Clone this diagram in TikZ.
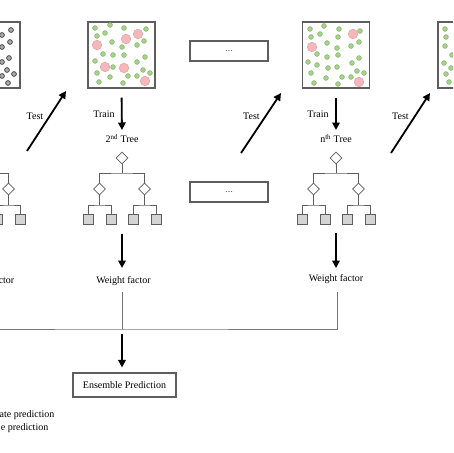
\documentclass[tikz,border=0pt]{standalone}
\usepackage{fontspec}
\setmainfont{Liberation Serif}
\usepackage{tikz}
\usetikzlibrary{positioning,
                calc,
                arrows.meta,
                shapes.geometric}
\definecolor{dotgreen}{HTML}{A9D18E}
\definecolor{dotgreenrim}{HTML}{7FAF62}
\definecolor{dotpink}{HTML}{F4B8BA}
\definecolor{dotpinkrim}{HTML}{E2A2A6}
\definecolor{dotgrey}{HTML}{A8A8A8}
\definecolor{framegrey}{HTML}{5E5E5E}
\definecolor{leafgrey}{HTML}{D4D4D4}

\begin{document}
\begin{tikzpicture}[x=1pt,y=-1pt]

\tikzset{
databox/.style={
draw=framegrey,
line width=1.2pt,
minimum width=67pt,
minimum height=66pt,
inner sep=0pt
},
gapbox/.style={
draw=framegrey,
line width=1.1pt,
minimum width=78pt,
minimum height=20pt,
inner sep=0pt,
font=\footnotesize
},
predbox/.style={
draw=framegrey,
line width=1.1pt,
minimum width=103pt,
minimum height=24pt,
inner sep=0pt,
font=\fontsize{10}{12}\selectfont
},
split/.style={
diamond,
draw=framegrey,
fill=white,
line width=0.8pt,
minimum size=12pt,
inner sep=0pt
},
leaf/.style={
draw=framegrey,
fill=leafgrey,
line width=0.8pt,
minimum size=10pt,
inner sep=0pt
},
treeline/.style={draw=framegrey, line width=0.8pt},
joinline/.style={draw=framegrey!85, line width=0.9pt},
bigarrow/.style={line width=1.8pt, -{Triangle[length=7.5pt,width=7.5pt]}},
steplabel/.style={font=\fontsize{10}{12}\selectfont, inner sep=1pt},
greendot/.style={fill=dotgreen, draw=dotgreenrim, line width=0.5pt},
pinkdot/.style={fill=dotpink, draw=dotpinkrim, line width=0.5pt},
greydot/.style={fill=dotgrey, draw=black!70, line width=0.8pt}
}

\useasboundingbox (0,0) rectangle (453,453);
\clip (0,0) rectangle (453,453);

%----------------------------------
% DATA BOXES
%----------------------------------

\node[databox] (dataone) at (-13.5,55) {};
\node[databox] (datatwo) at (121.5,55) {};
\node[databox] (dataenn) at (336,55) {};
\node[databox] (datalast) at (471.5,55) {};

\foreach \p in {(11,30),(2,35),(10,42),(2,47),(9,58),(2,62),(7,70),(14,74),(2,76),(8,83)}
  \draw[greydot] \p circle (2.4);

\foreach \p in {(95,28),(110,25),(124,28),(97,36),(105,33),(146,29),(144,41),(112,42),
                (122,47),(137,45),(103,54),(113,55),(124,55),(95,61),(137,62),(145,57),
                (113,67),(97,73),(110,77),(128,76),(137,76),(143,70),(150,73),(99,82),(123,83)}
  \draw[greendot] \p circle (2.4);
\foreach \p in {(97,45),(126,39),(138,34),(105,67),(124,68),(145,81)}
  \draw[pinkdot] \p circle (4.8);

\foreach \p in {(310,29),(324,26),(339,29),(311,37),(320,34),(338,37),(360,31),(327,43),
                (337,48),(351,46),(359,42),(317,54),(327,57),(338,55),(308,62),(317,65),
                (328,68),(337,67),(352,63),(359,58),(311,73),(326,78),(342,77),(351,77),
                (357,71),(364,73),(314,83),(338,84)}
  \draw[greendot] \p circle (2.4);
\foreach \p in {(353,34),(312,47),(359,82)}
  \draw[pinkdot] \p circle (4.8);

\foreach \p in {(445,29),(446,37),(445,46),(452,55),(444,63),(451,68),(446,74),(449,82)}
  \draw[greendot] \p circle (2.4);

%----------------------------------
% GAP BOXES
%----------------------------------

\node[gapbox] (gaptop) at (229,51) {\ldots};
\node[gapbox] (gapbot) at (229,192) {\ldots};

%----------------------------------
% TRAIN AND TEST
%----------------------------------

\node[steplabel,anchor=base] (trainlabtwo) at (104,117) {Train};
\node[steplabel,anchor=base] (trainlabenn) at (318,117) {Train};

\node[steplabel,anchor=north] (treelabtwo) at (122,133) {2\textsuperscript{nd} Tree};
\node[steplabel,anchor=north] (treelabenn) at (336,133) {n\textsuperscript{th} Tree};

\draw[bigarrow,shorten <=9pt,shorten >=3pt] (datatwo.south) -- (treelabtwo.north);
\draw[bigarrow,shorten <=9pt,shorten >=3pt] (dataenn.south) -- (treelabenn.north);

\node[steplabel,anchor=base] (testlabone) at (35,119) {Test};
\node[steplabel,anchor=base] (testlabtwo) at (251.5,119) {Test};
\node[steplabel,anchor=base] (testlabenn) at (400.5,119) {Test};

\coordinate (testonefoot) at (27,151);
\coordinate (testonetip) at (66,91);
\coordinate (testtwofoot) at (241,153);
\coordinate (testtwotip) at (281,93);
\coordinate (testennfoot) at (391,153);
\coordinate (testenntip) at (430,93);

\draw[bigarrow] (testonefoot) -- (testonetip);
\draw[bigarrow] (testtwofoot) -- (testtwotip);
\draw[bigarrow] (testennfoot) -- (testenntip);

%----------------------------------
% TREES
%----------------------------------

\foreach \t/\cx in {one/-14,two/122,enn/336}{
  \node[split] (root\t) at (\cx,158) {};
  \node[split] (lft\t) at (\cx-22.5,189) {};
  \node[split] (rgt\t) at (\cx+22.5,189) {};
  \node[leaf] (leafa\t) at (\cx-34,219) {};
  \node[leaf] (leafb\t) at (\cx-11,219) {};
  \node[leaf] (leafc\t) at (\cx+11,219) {};
  \node[leaf] (leafd\t) at (\cx+34,219) {};
  \coordinate (bar\t) at (\cx,173);
  \coordinate (lbar\t) at (\cx-22.5,205);
  \coordinate (rbar\t) at (\cx+22.5,205);
  \draw[treeline] (root\t) -- (bar\t);
  \draw[treeline] (lft\t) |- (bar\t) -| (rgt\t);
  \draw[treeline] (lft\t) -- (lbar\t);
  \draw[treeline] (rgt\t) -- (rbar\t);
  \draw[treeline] (leafa\t) |- (lbar\t) -| (leafb\t);
  \draw[treeline] (leafc\t) |- (rbar\t) -| (leafd\t);
}

%----------------------------------
% WEIGHT FACTORS
%----------------------------------

\node[steplabel,anchor=base east] (wfone) at (15.5,283) {ctor};
\node[steplabel,anchor=north] (wftwo) at (123.5,275) {Weight factor};
\node[steplabel,anchor=north] (wfenn) at (336,273) {Weight factor};

\coordinate (basetwo) at (122,234);
\coordinate (baseenn) at (336,233);
\draw[bigarrow,shorten >=7pt] (basetwo) -- (basetwo |- wftwo.north);
\draw[bigarrow,shorten >=5pt] (baseenn) -- (baseenn |- wfenn.north);

%----------------------------------
% ENSEMBLE
%----------------------------------

\coordinate (joinone) at (-14,292);
\coordinate (jointwo) at (122,292);
\coordinate (joinenn) at (337,292);
\coordinate (merge) at (122,329);

\draw[joinline] (joinone) |- (merge) -| (joinenn);
\draw[joinline] (jointwo) -- (merge);

\node[predbox] (ens) at (124.5,385) {Ensemble Prediction};
\draw[bigarrow,shorten <=5pt,shorten >=5pt] (merge) -- (merge |- ens.north);

%----------------------------------
% LEGEND
%----------------------------------

\node[steplabel,anchor=base east] (keyone) at (55.5,417.5) {ate prediction};
\node[steplabel,anchor=base east] (keytwo) at (49.5,430) {e prediction};

\end{tikzpicture}
\end{document}
